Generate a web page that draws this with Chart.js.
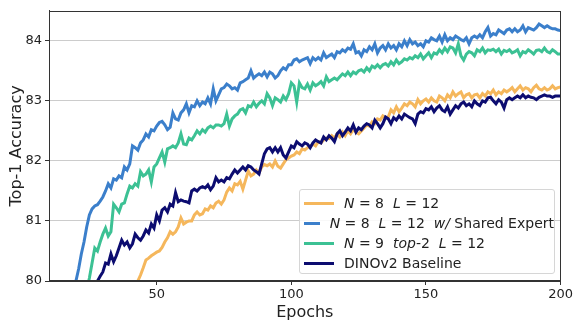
<!DOCTYPE html>
<html>
<head>
<meta charset="utf-8">
<script src="https://cdn.jsdelivr.net/npm/chart.js@4"></script>
<style>
  html, body { margin: 0; padding: 0; background: #fff; }
  #wrap { position: relative; width: 575px; height: 322px; font-family: "DejaVu Sans", sans-serif; }
  #legend {
    position: absolute; left: 299px; top: 189px; width: 256px; height: 85px;
    box-sizing: border-box; border: 1px solid #d6d6d6; border-radius: 3px;
    background: rgba(255,255,255,0.85); padding: 3px 0 0 4px; color: #222; font-size: 14px;
  }
  .row { display: flex; align-items: center; height: 20px; white-space: pre; }
  .swatch { width: 30px; height: 3px; margin-right: 10px; }
</style>
</head>
<body>
<div id="wrap">
  <canvas id="chart" width="575" height="322"></canvas>
  <div id="legend"></div>
</div>
<script>
// epochs where each curve begins (values below 80 fall under the axis and get clipped)
const sharedStart = 18;
const top2Start = 23;
const baseStart = 27;
const n8Start = 42;

const xTicks = [50, 100, 150, 200];
const yTicks = [80, 81, 82, 83, 84];

// N=8 L=12 w/ Shared Expert
const sharedVals = [
  79.6, 79.8, 80.0, 80.2, 80.45, 80.65, 80.9, 81.1, 81.2, 81.25,
  81.27, 81.33, 81.4, 81.5, 81.62, 81.55, 81.7, 81.68, 81.75, 81.72,
  81.9, 81.85, 81.95, 82.25, 82.22, 82.18, 82.3, 82.35, 82.45, 82.4,
  82.52, 82.5, 82.58, 82.64, 82.66, 82.6, 82.52, 82.56, 82.8, 82.7,
  82.68, 82.8, 82.85, 82.95, 82.8, 82.92, 82.9, 83.0, 82.92, 82.98,
  82.95, 83.05, 82.95, 83.2, 83.0, 83.1, 83.2, 83.22, 83.28, 83.25,
  83.2, 83.22, 83.18, 83.3, 83.32, 83.35, 83.38, 83.5, 83.38, 83.42,
  83.45, 83.42, 83.48, 83.4, 83.48, 83.45, 83.38, 83.42, 83.5, 83.55,
  83.52, 83.6, 83.6, 83.68, 83.7, 83.65, 83.68, 83.7, 83.72, 83.62,
  83.72, 83.68, 83.72, 83.68, 83.8, 83.72, 83.75, 83.78, 83.72, 83.82,
  83.8, 83.85, 83.82, 83.88, 83.86, 83.95, 83.8, 83.82, 83.75, 83.85,
  83.82, 83.9, 83.85, 83.95, 83.8, 83.88, 83.92, 83.85, 83.95, 83.88,
  83.92, 83.85, 83.95, 83.9, 84.0, 83.92, 84.02, 83.95, 83.98, 83.92,
  83.95, 83.9, 84.0, 83.98, 84.05, 84.02, 84.0, 84.08, 83.98, 84.1,
  84.0, 84.05, 84.02, 84.08, 84.05, 84.02, 84.0, 84.05, 83.95, 84.05,
  84.08, 84.05, 84.1, 84.05, 84.15, 84.22, 84.08, 84.12, 84.1, 84.18,
  84.15, 84.12, 84.18, 84.2, 84.15, 84.2, 84.15, 84.18, 84.25, 84.15,
  84.22, 84.2, 84.18, 84.22, 84.28, 84.25, 84.22, 84.25, 84.22, 84.2,
  84.2, 84.18, 84.17
];

// N=9 top-2 L=12
const top2Vals = [
  79.7, 79.85, 80.05, 80.3, 80.55, 80.5, 80.65, 80.78, 80.88, 80.75,
  80.82, 81.28, 81.22, 81.15, 81.28, 81.3, 81.45, 81.58, 81.55, 81.62,
  81.58, 81.82, 81.75, 81.78, 81.85, 81.65, 81.9, 81.95, 82.05, 82.15,
  81.98, 82.2, 82.22, 82.25, 82.22, 82.3, 82.45, 82.28, 82.27, 82.38, 82.35,
  82.42, 82.5, 82.45, 82.52, 82.48, 82.55, 82.58, 82.55, 82.6, 82.6,
  82.58, 82.62, 82.78, 82.58, 82.7, 82.75, 82.78, 82.85, 82.87, 82.8,
  82.92, 82.9, 82.98, 82.9, 82.96, 83.0, 82.95, 83.12, 83.05, 82.92,
  83.05, 83.02, 82.98, 83.08, 83.02, 83.12, 83.3, 83.25, 82.98, 83.3,
  83.22, 83.2, 83.28, 83.18, 83.3, 83.25, 83.28, 83.32, 83.25, 83.4,
  83.32, 83.35, 83.38, 83.35, 83.4, 83.45, 83.42, 83.48, 83.42, 83.48,
  83.45, 83.5, 83.52, 83.48, 83.55, 83.5, 83.58, 83.55, 83.6, 83.55,
  83.6, 83.62, 83.58, 83.65, 83.6, 83.68, 83.62, 83.65, 83.7, 83.68,
  83.72, 83.7, 83.75, 83.72, 83.78, 83.7, 83.75, 83.8, 83.72, 83.8,
  83.78, 83.85, 83.8, 83.88, 83.82, 83.9, 83.88, 83.8, 83.95, 83.75,
  83.68, 83.78, 83.82, 83.8, 83.75, 83.85, 83.82, 83.88, 83.8, 83.85,
  83.84, 83.86, 83.82, 83.86, 83.78, 83.84, 83.82, 83.85, 83.8, 83.82,
  83.85, 83.75, 83.82, 83.8, 83.85, 83.82, 83.78, 83.84, 83.85, 83.82,
  83.88, 83.82, 83.8, 83.85, 83.82, 83.78, 83.78
];

// DINOv2 Baseline
const baseVals = [
  79.85, 80.0, 80.08, 80.15, 80.3, 80.28, 80.45, 80.32, 80.42, 80.55,
  80.68, 80.6, 80.65, 80.55, 80.62, 80.78, 80.72, 80.68, 80.75, 80.85,
  80.8, 80.95, 80.88, 81.1, 81.0, 81.18, 81.22, 81.15, 81.28, 81.25,
  81.47, 81.32, 81.35, 81.33, 81.32, 81.3, 81.5, 81.53, 81.5, 81.55,
  81.57, 81.55, 81.6, 81.52, 81.58, 81.72, 81.65, 81.68, 81.65, 81.72,
  81.7, 81.78, 81.85, 81.8, 81.85, 81.9, 81.85, 81.92, 81.9, 81.85,
  81.82, 81.78, 81.95, 82.12, 82.2, 82.22, 82.15, 82.22, 82.15, 82.22,
  82.1, 82.05, 82.15, 82.25, 82.22, 82.32, 82.28, 82.25, 82.3, 82.28,
  82.22, 82.3, 82.35, 82.32, 82.3, 82.4, 82.35, 82.42, 82.38, 82.32,
  82.45, 82.5, 82.42, 82.48, 82.55, 82.5, 82.6, 82.48, 82.55, 82.52,
  82.58, 82.62, 82.6, 82.55, 82.68, 82.62, 82.55, 82.62, 82.73, 82.7,
  82.62, 82.72, 82.68, 82.75, 82.7, 82.78, 82.75, 82.72, 82.7, 82.62,
  82.78, 82.82, 82.8, 82.87, 82.85, 82.9, 82.82, 82.88, 82.92, 82.85,
  82.82, 82.9, 82.78, 82.85, 82.92, 82.88, 82.95, 82.98, 82.92, 82.95,
  82.9, 83.0, 82.95, 82.92, 83.0, 82.98, 83.05, 83.06, 83.0, 82.95,
  83.02, 82.98, 82.88, 83.02, 83.05, 83.02, 83.05, 83.08, 83.05, 83.1,
  83.05, 83.08, 83.06, 83.05, 83.02, 83.06, 83.08, 83.1, 83.08, 83.08,
  83.06, 83.08, 83.08, 83.08
];

// N=8 L=12
const n8Vals = [
  79.85, 80.0, 80.1, 80.22, 80.35, 80.38, 80.42, 80.45, 80.48, 80.5,
  80.56, 80.65, 80.72, 80.82, 80.78, 80.82, 80.9, 81.05, 80.95, 80.98,
  81.0, 81.0, 81.1, 81.15, 81.1, 81.12, 81.2, 81.18, 81.25, 81.22,
  81.3, 81.33, 81.28, 81.35, 81.48, 81.55, 81.5, 81.62, 81.6, 81.66,
  81.53, 81.68, 81.83, 81.75, 81.78, 81.85, 81.8, 81.9, 81.94, 81.92,
  81.95, 81.9, 82.0, 81.91, 81.88, 81.95, 82.02, 82.05, 82.08, 82.1,
  82.15, 82.12, 82.2, 82.18, 82.22, 82.24, 82.28, 82.25, 82.32, 82.3,
  82.35, 82.38, 82.37, 82.42, 82.38, 82.45, 82.4, 82.48, 82.42, 82.5,
  82.45, 82.52, 82.48, 82.45, 82.5, 82.55, 82.6, 82.58, 82.65, 82.62,
  82.7, 82.68, 82.75, 82.72, 82.73, 82.85, 82.8, 82.9, 82.82, 82.88,
  82.95, 82.92, 82.98, 82.95, 82.9, 83.02, 82.95, 83.0, 83.03, 82.98,
  83.05, 83.0, 82.98, 83.08, 83.05, 83.0, 83.1, 83.05, 83.15, 83.08,
  83.12, 83.15, 83.05, 83.1, 83.12, 83.05, 83.1, 83.11, 83.05, 83.12,
  83.08, 83.15, 83.12, 83.18, 83.1, 83.15, 83.12, 83.18, 83.15, 83.18,
  83.22, 83.15, 83.2, 83.25, 83.18, 83.22, 83.2, 83.15, 83.22, 83.26,
  83.2, 83.18, 83.22, 83.18, 83.2, 83.25, 83.2, 83.22, 83.23
];

const seriesLabels = ['N=8 L=12', 'N=8 L=12 w/ Shared Expert', 'N=9 top-2 L=12', 'DINOv2 Baseline'];
const legendHtml = [
  '<i>N</i> = 8  <i>L</i> = 12',
  '<i>N</i> = 8  <i>L</i> = 12  <i>w/</i> Shared Expert',
  '<i>N</i> = 9  <i>top</i>-2  <i>L</i> = 12',
  'DINOv2 Baseline'
];
const seriesColors = ['#f5b75c', '#3b7fcb', '#3cc194', '#0c0c70'];

function toPoints(start, vals) {
  return vals.map((v, i) => ({ x: start + i, y: v }));
}

const seriesData = [
  toPoints(n8Start, n8Vals),
  toPoints(sharedStart, sharedVals),
  toPoints(top2Start, top2Vals),
  toPoints(baseStart, baseVals)
];

const frame = {
  id: 'frame',
  afterDraw(chart) {
    const { ctx, chartArea: a } = chart;
    ctx.save();
    ctx.strokeStyle = '#333';
    ctx.lineWidth = 1;
    ctx.strokeRect(Math.round(a.left) + 0.5, Math.round(a.top) + 0.5,
      Math.round(a.right - a.left) - 1, Math.round(a.bottom - a.top) - 1);
    ctx.restore();
  }
};

Chart.defaults.font.family = '"DejaVu Sans", sans-serif';
Chart.defaults.color = '#222';

new Chart(document.getElementById('chart'), {
  type: 'line',
  data: {
    datasets: seriesData.map((d, i) => ({
      label: seriesLabels[i],
      data: d,
      borderColor: seriesColors[i],
      backgroundColor: seriesColors[i],
      borderWidth: 3,
      pointRadius: 0,
      tension: 0,
      fill: false
    })).reverse()
  },
  options: {
    responsive: false,
    animation: false,
    layout: { padding: { top: 8, right: 12, left: 0, bottom: 0 } },
    plugins: { legend: { display: false }, tooltip: { enabled: false } },
    scales: {
      x: {
        type: 'linear',
        min: 10,
        max: 200,
        afterBuildTicks: s => { s.ticks = xTicks.map(v => ({ value: v })); },
        afterFit: s => { s.height = 41; },
        grid: { drawOnChartArea: false, drawTicks: true, tickLength: 4, tickColor: '#333' },
        border: { color: '#333' },
        ticks: { font: { size: 13 }, padding: 2, maxRotation: 0 },
        title: { display: true, text: 'Epochs', font: { size: 16 }, padding: { top: 0, bottom: 0 } }
      },
      y: {
        min: 80,
        max: 84.5,
        afterBuildTicks: s => { s.ticks = yTicks.map(v => ({ value: v })); },
        afterFit: s => { s.width = 49; },
        grid: { color: '#cccccc', drawTicks: true, tickLength: 4, tickColor: '#333' },
        border: { color: '#333' },
        ticks: { font: { size: 13 }, padding: 3 },
        title: { display: true, text: 'Top-1 Accuracy', font: { size: 16 }, padding: { top: 7, bottom: 2 } }
      }
    }
  },
  plugins: [frame]
});

document.getElementById('legend').innerHTML = legendHtml.map((h, i) =>
  `<div class="row"><span class="swatch" style="background:${seriesColors[i]}"></span><span>${h}</span></div>`
).join('');
</script>
</body>
</html>
